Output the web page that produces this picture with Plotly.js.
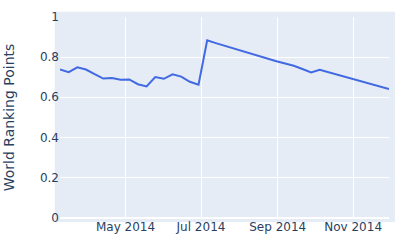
<!DOCTYPE html>
<html>
<head>
<meta charset="utf-8">
<script src="https://cdn.plot.ly/plotly-3.0.1.min.js"></script>
<style>html,body{margin:0;padding:0;background:#fff;}#chart{width:400px;height:250px;}</style>
</head>
<body>
<div id="chart"></div>
<script>
const weeks = [
  "2014-03-09","2014-03-16","2014-03-23","2014-03-30","2014-04-06","2014-04-13","2014-04-20","2014-04-27",
  "2014-05-04","2014-05-11","2014-05-18","2014-05-25","2014-06-01","2014-06-08","2014-06-15","2014-06-22",
  "2014-06-29","2014-07-06","2014-07-13","2014-07-20","2014-07-27","2014-08-03","2014-08-10","2014-08-17",
  "2014-08-24","2014-08-31","2014-09-07","2014-09-14","2014-09-21","2014-09-28","2014-10-05","2014-10-12",
  "2014-10-19","2014-10-26","2014-11-02","2014-11-09","2014-11-16","2014-11-23","2014-11-30"
];
const points = [
  0.738, 0.725, 0.749, 0.738, 0.715, 0.693, 0.696, 0.687,
  0.689, 0.665, 0.654, 0.701, 0.692, 0.714, 0.703, 0.677,
  0.662, 0.884, 0.870, 0.857, 0.843, 0.830, 0.816, 0.804,
  0.791, 0.779, 0.768, 0.757, 0.741, 0.724, 0.737, 0.725,
  0.713, 0.701, 0.689, 0.677, 0.665, 0.653, 0.641
];
const xTickVals = ["2014-05-01","2014-07-01","2014-09-01","2014-11-01"];
const xTickText = ["May 2014","Jul 2014","Sep 2014","Nov 2014"];
const yTickVals = [0, 0.2, 0.4, 0.6, 0.8, 1];
const yTickText = ["0","0.2","0.4","0.6","0.8","1"];
const yTitle = "World Ranking Points";

const trace = {
  x: weeks, y: points, type: "scatter", mode: "lines",
  line: {color: "#4169E1", width: 2}, hoverinfo: "skip"
};
const layout = {
  width: 400, height: 250,
  margin: {l: 60, r: 11, t: 17, b: 32, pad: 0},
  paper_bgcolor: "#ffffff", plot_bgcolor: "#E5ECF6",
  font: {family: "'DejaVu Sans', verdana, arial, sans-serif", color: "#2a3f5f", size: 12},
  showlegend: false,
  xaxis: {
    type: "date", range: [weeks[0], weeks[weeks.length - 1]],
    tickvals: xTickVals, ticktext: xTickText,
    showgrid: true, gridcolor: "#ffffff", gridwidth: 1,
    zeroline: false, showline: false, ticks: "", automargin: false
  },
  yaxis: {
    range: [-0.002, 1], tickvals: yTickVals, ticktext: yTickText,
    showgrid: true, gridcolor: "#ffffff", gridwidth: 1,
    zeroline: true, zerolinecolor: "#ffffff", zerolinewidth: 2,
    showline: false, ticks: "", automargin: false,
    title: {text: yTitle, font: {size: 14, color: "#2a3f5f"}, standoff: 22}
  },
  shapes: [{
    type: "rect", xref: "paper", yref: "paper", layer: "below",
    x0: -0.016, x1: 1.018, y0: -0.02, y1: 1.026,
    fillcolor: "#E5ECF6", line: {width: 0}
  }]
};
Plotly.newPlot("chart", [trace], layout, {displayModeBar: false, staticPlot: true});
</script>
</body>
</html>
